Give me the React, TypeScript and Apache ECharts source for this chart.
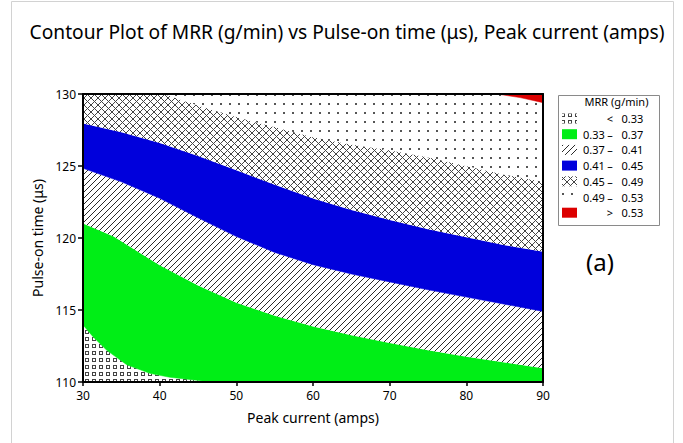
import { useEffect, useRef } from 'react';
import * as echarts from 'echarts';

// ---- data -------------------------------------------------------------
const xTicks = [30, 40, 50, 60, 70, 80, 90];
const yTicks = [110, 115, 120, 125, 130];
const levels = [0.33, 0.37, 0.41, 0.45, 0.49, 0.53];

// contour lines, as [Peak current (amps), Pulse-on time (µs)]
const line033: [number, number][] = [
  [30, 113.96], [31.3, 113.15], [33.1, 112.2], [35.7, 111.2], [38.7, 110.6],
  [41.3, 110.33], [44.8, 110.12], [46.5, 110],
];
const line037: [number, number][] = [
  [30, 121.0], [34, 120.1], [40, 118.1], [45, 116.7], [50, 115.5], [55, 114.6],
  [60, 113.85], [65, 113.25], [70, 112.7], [75, 112.2], [80, 111.75], [85, 111.35], [90, 110.95],
];
const line041: [number, number][] = [
  [30, 124.84], [35, 123.9], [40, 122.76], [45, 121.4], [50, 120.1], [55, 119.0],
  [60, 118.15], [65, 117.5], [70, 116.95], [75, 116.4], [80, 115.9], [85, 115.4], [90, 114.9],
];
const line045: [number, number][] = [
  [30, 127.96], [35, 127.35], [40, 126.6], [45, 125.7], [50, 124.7], [55, 123.7],
  [60, 122.75], [65, 121.95], [70, 121.25], [75, 120.6], [80, 120.05], [85, 119.5], [90, 119.05],
];
const line049: [number, number][] = [
  [40.5, 130], [45, 129.2], [50, 128.4], [55, 127.7], [60, 127.0], [65, 126.5],
  [70, 126.1], [75, 125.6], [80, 125.0], [85, 124.4], [90, 123.9],
];
const line053: [number, number][] = [[84, 130], [87, 129.75], [90, 129.4]];

const FONT = 'Noto Sans';

function tile(size: number, draw: (ctx: CanvasRenderingContext2D) => void) {
  const c = document.createElement('canvas');
  c.width = size;
  c.height = size;
  const ctx = c.getContext('2d')!;
  ctx.fillStyle = '#ffffff';
  ctx.fillRect(0, 0, size, size);
  draw(ctx);
  return { image: c, repeat: 'repeat', imageWidth: size, imageHeight: size } as any;
}

export default function App() {
  const ref = useRef<HTMLDivElement>(null);

  useEffect(() => {
    const chart = echarts.init(ref.current!, null, { renderer: 'svg' });

    const pSquares = tile(7, (ctx) => {
      ctx.strokeStyle = '#444';
      ctx.lineWidth = 1;
      ctx.strokeRect(1.5, 1.5, 3, 3);
    });
    const pDiag = tile(6, (ctx) => {
      ctx.strokeStyle = '#2a2a2a';
      ctx.lineWidth = 1;
      for (const o of [-6, 0, 6]) {
        ctx.beginPath();
        ctx.moveTo(o - 1, 7);
        ctx.lineTo(o + 7, -1);
        ctx.stroke();
      }
    });
    const pCross = tile(7, (ctx) => {
      ctx.strokeStyle = '#444';
      ctx.lineWidth = 1;
      for (const o of [-7, 0, 7]) {
        ctx.beginPath();
        ctx.moveTo(o - 1, 8);
        ctx.lineTo(o + 8, -1);
        ctx.stroke();
        ctx.beginPath();
        ctx.moveTo(o - 1, -1);
        ctx.lineTo(o + 8, 8);
        ctx.stroke();
      }
    });
    const pDots = tile(9, (ctx) => {
      ctx.fillStyle = '#555';
      ctx.fillRect(4, 4, 2, 2);
    });

    const rev = (a: [number, number][]) => a.slice().reverse();
    const polys: [number, number][][] = [
      [[30, 110], ...line033],
      [...line033, [90, 110], ...rev(line037)],
      [...line037, ...rev(line041)],
      [...line041, ...rev(line045)],
      [...line045, ...rev(line049), [30, 130]],
      [...line049, ...rev(line053)],
      [...line053, [90, 130]],
    ];
    const fills: any[] = [pSquares, '#00ee16', pDiag, '#0000dc', pCross, pDots, '#dc0000'];

    const f2 = (v: number) => v.toFixed(2);
    const rows = [
      { lo: '', sym: '<', hi: f2(levels[0]) },
      ...levels.slice(1).map((v, i) => ({ lo: f2(levels[i]), sym: '–', hi: f2(v) })),
      { lo: '', sym: '>', hi: f2(levels[levels.length - 1]) },
    ];

    const series = polys.map((poly, i) => ({
      type: 'custom',
      name: (rows[i].lo + ' ' + rows[i].sym + ' ' + rows[i].hi).trim(),
      coordinateSystem: 'cartesian2d',
      xAxisIndex: 0,
      yAxisIndex: 0,
      clip: true,
      silent: true,
      data: [[poly[0][0], poly[0][1]]],
      renderItem: (_params: any, api: any) => ({
        type: 'polygon',
        shape: { points: poly.map((p) => api.coord(p)) },
        style: {
          fill: fills[i],
          stroke: typeof fills[i] === 'string' ? fills[i] : null,
          lineWidth: 0.5,
        },
      }),
    }));

    const legendX = 558.5;
    const legendY = 95.5;
    const rowY0 = 118.5;
    const rowStep = 15.7;
    const txt = { fontFamily: FONT, fontSize: 11, fill: '#000', verticalAlign: 'middle' };
    const legendChildren: any[] = [
      {
        type: 'rect',
        shape: { x: legendX, y: legendY, width: 101, height: 130 },
        style: { fill: '#fff', stroke: '#8a8a8a', lineWidth: 1 },
      },
      {
        type: 'text',
        x: 616.5,
        y: 101.5,
        style: { ...txt, text: 'MRR (g/min)', align: 'center' },
      },
    ];
    rows.forEach((r, i) => {
      const cy = rowY0 + i * rowStep;
      legendChildren.push({
        type: 'rect',
        shape: { x: 562, y: cy - 5, width: 15, height: 10 },
        style: { fill: fills[i], stroke: null },
      });
      if (r.lo) {
        legendChildren.push({ type: 'text', x: 583, y: cy, style: { ...txt, text: r.lo, align: 'left' } });
      }
      legendChildren.push({ type: 'text', x: 610, y: cy, style: { ...txt, text: r.sym, align: 'center' } });
      legendChildren.push({ type: 'text', x: 621.5, y: cy, style: { ...txt, text: r.hi, align: 'left' } });
    });

    const axisLabelStyle = { color: '#000', fontSize: 12, fontFamily: FONT };

    chart.setOption({
      animation: false,
      backgroundColor: '#ffffff',
      title: {
        text: 'Contour Plot of MRR (g/min) vs Pulse-on time (μs), Peak current (amps)',
        left: 342,
        textAlign: 'center',
        top: 17,
        textStyle: { fontFamily: FONT, fontSize: 19.2, fontWeight: 'normal', color: '#000' },
      },
      grid: { left: 83, top: 94, width: 460, height: 288, containLabel: false },
      xAxis: [
        {
          type: 'value',
          min: xTicks[0],
          max: xTicks[xTicks.length - 1],
          interval: xTicks[1] - xTicks[0],
          position: 'bottom',
          z: 10,
          axisLine: { show: true, onZero: false, lineStyle: { color: '#000', width: 2 } },
          axisTick: { show: true, length: 4, lineStyle: { color: '#000', width: 1.5 } },
          axisLabel: { ...axisLabelStyle, margin: 7 },
          splitLine: { show: false },
          name: 'Peak current (amps)',
          nameLocation: 'middle',
          nameGap: 28,
          nameTextStyle: { fontFamily: FONT, fontSize: 14, color: '#000' },
        },
        {
          type: 'value',
          min: xTicks[0],
          max: xTicks[xTicks.length - 1],
          position: 'top',
          z: 10,
          axisLine: { show: true, onZero: false, lineStyle: { color: '#000', width: 2 } },
          axisTick: { show: false },
          axisLabel: { show: false },
          splitLine: { show: false },
        },
      ],
      yAxis: [
        {
          type: 'value',
          min: yTicks[0],
          max: yTicks[yTicks.length - 1],
          interval: yTicks[1] - yTicks[0],
          position: 'left',
          z: 10,
          axisLine: { show: true, onZero: false, lineStyle: { color: '#000', width: 2 } },
          axisTick: { show: true, length: 5, lineStyle: { color: '#000', width: 1.5 } },
          axisLabel: { ...axisLabelStyle, margin: 7 },
          splitLine: { show: false },
          name: 'Pulse-on time (μs)',
          nameLocation: 'middle',
          nameGap: 19,
          nameTextStyle: { fontFamily: FONT, fontSize: 14, color: '#000' },
        },
        {
          type: 'value',
          min: yTicks[0],
          max: yTicks[yTicks.length - 1],
          position: 'right',
          z: 10,
          axisLine: { show: true, onZero: false, lineStyle: { color: '#000', width: 2 } },
          axisTick: { show: false },
          axisLabel: { show: false },
          splitLine: { show: false },
        },
      ],
      series,
      graphic: [
        {
          type: 'rect',
          silent: true,
          z: -10,
          shape: { x: 11.5, y: 1.5, width: 662, height: 470 },
          style: { fill: 'none', stroke: '#d2d2d2', lineWidth: 1 },
        },
        { type: 'group', children: legendChildren },
        {
          type: 'text',
          x: 600,
          y: 261,
          style: { text: '(a)', fontFamily: FONT, fontSize: 24, fill: '#000', align: 'center', verticalAlign: 'middle' },
        },
      ],
    });

    return () => chart.dispose();
  }, []);

  return <div ref={ref} style={{ position: 'fixed', left: 0, top: 0, width: 683, height: 443 }} />;
}
